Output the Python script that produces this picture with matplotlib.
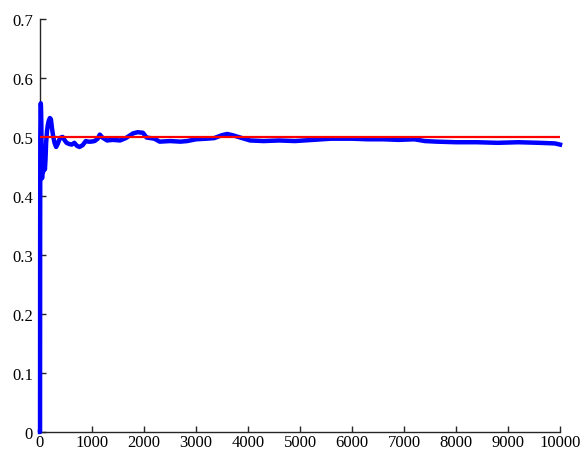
import matplotlib
matplotlib.use("Agg")
import matplotlib.pyplot as plt

# running proportion values (trial number, proportion)
trials = [1, 3, 6, 10, 15, 20, 26, 32, 40, 48, 58, 70, 82, 95, 105, 118,
          135, 150, 170, 190, 210, 230, 255, 280, 310, 340, 370, 400, 435,
          470, 510, 560, 610, 660, 710, 760, 820, 880, 930, 980, 1050, 1110,
          1150, 1200, 1290, 1400, 1540, 1650, 1790, 1880, 1980, 2050, 2200,
          2300, 2500, 2700, 2830, 3000, 3200, 3350, 3500, 3600, 3700, 3850,
          4040, 4300, 4600, 4900, 5250, 5600, 6000, 6300, 6600, 6900, 7200,
          7400, 7630, 8000, 8400, 8800, 9200, 9600, 9900, 10000]
proportion = [0.0, 0.33, 0.5, 0.54, 0.557, 0.55, 0.52, 0.47, 0.43, 0.45,
              0.44, 0.47, 0.455, 0.445, 0.46, 0.49, 0.51, 0.52, 0.528, 0.532,
              0.53, 0.515, 0.50, 0.49, 0.483, 0.488, 0.495, 0.499, 0.50,
              0.495, 0.49, 0.488, 0.487, 0.49, 0.485, 0.483, 0.486, 0.493,
              0.492, 0.492, 0.493, 0.497, 0.504, 0.499, 0.494, 0.495, 0.494,
              0.498, 0.506, 0.508, 0.507, 0.499, 0.497, 0.492, 0.493, 0.492,
              0.493, 0.496, 0.497, 0.498, 0.503, 0.505, 0.503, 0.499, 0.494,
              0.493, 0.494, 0.493, 0.495, 0.497, 0.497, 0.496, 0.496, 0.495,
              0.496, 0.493, 0.492, 0.491, 0.491, 0.490, 0.491, 0.490, 0.489,
              0.487]
target = 0.5
x_ticks = list(range(0, 10001, 1000))
y_ticks = [0, 0.1, 0.2, 0.3, 0.4, 0.5, 0.6, 0.7]

plt.rcParams['font.family'] = ['Liberation Serif', 'DejaVu Serif']

fig = plt.figure(figsize=(5.83, 4.52), dpi=100)
ax = fig.add_axes([0.0686, 0.042, 0.892, 0.914])

ax.plot([0] + trials, [0.0] + proportion, color='#0000ff', lw=3.2,
        solid_joinstyle='round', clip_on=False, zorder=3)
ax.plot([0, 10000], [target, target], color='#ff0000', lw=1.6, zorder=4)

ax.set_xlim(0, 10000)
ax.set_ylim(0, 0.7)
ax.set_xticks(x_ticks)
ax.set_xticklabels([str(t) for t in x_ticks])
ax.set_yticks(y_ticks)
ax.set_yticklabels(['0'] + [f'{t:g}' for t in y_ticks[1:]])

for side in ['top', 'right']:
    ax.spines[side].set_visible(False)
for side in ['left', 'bottom']:
    ax.spines[side].set_color('#262626')
    ax.spines[side].set_linewidth(1.0)
ax.tick_params(direction='in', length=4, width=1, colors='#262626',
               labelsize=12, labelcolor='black')
ax.tick_params(axis='x', pad=1.5)
ax.tick_params(axis='y', pad=5)

fig.savefig('out.png', dpi=100)
